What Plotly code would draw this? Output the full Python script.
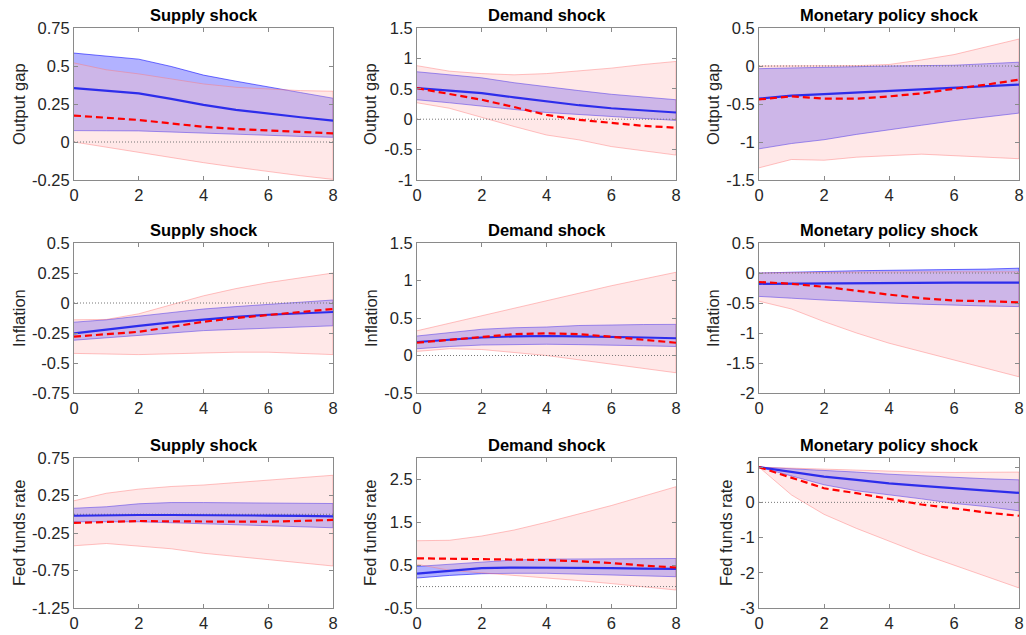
import plotly.graph_objects as go

# ---------------- data ----------------
quarters = [0, 1, 2, 3, 4, 5, 6, 7, 8]
row_labels = ["Output gap", "Inflation", "Fed funds rate"]
col_titles = ["Supply shock", "Demand shock", "Monetary policy shock"]

# Output gap
og_sup_blue_hi = [0.585, 0.565, 0.545, 0.497, 0.44, 0.40, 0.36, 0.325, 0.288]
og_sup_blue_md = [0.354, 0.338, 0.32, 0.284, 0.244, 0.211, 0.185, 0.163, 0.14]
og_sup_blue_lo = [0.075, 0.074, 0.073, 0.065, 0.057, 0.05, 0.044, 0.037, 0.031]
og_sup_red_md = [0.174, 0.158, 0.145, 0.122, 0.10, 0.086, 0.075, 0.065, 0.057]
og_sup_red_hi = [0.52, 0.475, 0.448, 0.413, 0.382, 0.36, 0.35, 0.338, 0.334]
og_sup_red_lo = [0.0, -0.036, -0.07, -0.103, -0.136, -0.166, -0.196, -0.222, -0.246]

og_dem_blue_hi = [0.78, 0.73, 0.68, 0.60, 0.53, 0.47, 0.41, 0.36, 0.32]
og_dem_blue_md = [0.51, 0.47, 0.43, 0.36, 0.29, 0.23, 0.18, 0.14, 0.11]
og_dem_blue_lo = [0.32, 0.27, 0.22, 0.16, 0.11, 0.07, 0.044, 0.01, -0.02]
og_dem_red_md = [0.51, 0.42, 0.32, 0.2, 0.07, -0.01, -0.066, -0.11, -0.14]
og_dem_red_hi = [0.88, 0.79, 0.75, 0.73, 0.75, 0.79, 0.84, 0.90, 0.95]
og_dem_red_lo = [0.27, 0.18, 0.03, -0.12, -0.26, -0.34, -0.45, -0.52, -0.59]

og_mon_blue_hi = [-0.035, -0.025, -0.02, -0.01, 0.0, 0.005, 0.01, 0.03, 0.05]
og_mon_blue_md = [-0.43, -0.39, -0.37, -0.35, -0.33, -0.31, -0.29, -0.265, -0.245]
og_mon_blue_lo = [-1.09, -1.02, -0.97, -0.90, -0.84, -0.78, -0.72, -0.67, -0.62]
og_mon_red_md = [-0.44, -0.40, -0.43, -0.43, -0.40, -0.36, -0.30, -0.245, -0.18]
og_mon_red_hi = [0.0, 0.0, 0.0, 0.005, 0.02, 0.08, 0.15, 0.25, 0.355]
og_mon_red_lo = [-1.34, -1.23, -1.24, -1.2, -1.18, -1.16, -1.18, -1.2, -1.22]

# Inflation
inf_sup_blue_hi = [-0.16, -0.14, -0.11, -0.08, -0.05, -0.03, -0.01, 0.01, 0.025]
inf_sup_blue_md = [-0.254, -0.22, -0.19, -0.162, -0.137, -0.116, -0.098, -0.085, -0.075]
inf_sup_blue_lo = [-0.31, -0.29, -0.27, -0.25, -0.23, -0.22, -0.21, -0.20, -0.19]
inf_sup_red_md = [-0.28, -0.26, -0.24, -0.2, -0.156, -0.125, -0.10, -0.075, -0.05]
inf_sup_red_hi = [-0.14, -0.137, -0.09, -0.017, 0.06, 0.12, 0.17, 0.21, 0.25]
inf_sup_red_lo = [-0.42, -0.425, -0.43, -0.42, -0.415, -0.41, -0.41, -0.42, -0.43]

inf_dem_blue_hi = [0.26, 0.31, 0.35, 0.37, 0.38, 0.40, 0.41, 0.413, 0.415]
inf_dem_blue_md = [0.18, 0.21, 0.24, 0.255, 0.26, 0.255, 0.25, 0.24, 0.23]
inf_dem_blue_lo = [0.09, 0.12, 0.14, 0.148, 0.15, 0.145, 0.14, 0.13, 0.12]
inf_dem_red_md = [0.17, 0.21, 0.25, 0.285, 0.295, 0.285, 0.25, 0.21, 0.17]
inf_dem_red_hi = [0.33, 0.43, 0.53, 0.64, 0.74, 0.84, 0.93, 1.02, 1.11]
inf_dem_red_lo = [0.055, 0.09, 0.08, 0.04, 0.0, -0.05, -0.11, -0.17, -0.23]

inf_mon_blue_hi = [0.0, 0.015, 0.03, 0.038, 0.045, 0.05, 0.055, 0.065, 0.08]
inf_mon_blue_md = [-0.18, -0.175, -0.17, -0.165, -0.16, -0.16, -0.16, -0.16, -0.16]
inf_mon_blue_lo = [-0.39, -0.42, -0.45, -0.48, -0.5, -0.52, -0.54, -0.55, -0.56]
inf_mon_red_md = [-0.15, -0.18, -0.23, -0.30, -0.36, -0.42, -0.46, -0.47, -0.49]
inf_mon_red_hi = [0.0, 0.0, 0.01, 0.015, 0.02, 0.02, 0.02, 0.02, 0.02]
inf_mon_red_lo = [-0.47, -0.6, -0.81, -1.0, -1.17, -1.31, -1.44, -1.59, -1.73]

# Fed funds rate
ffr_sup_blue_hi = [0.08, 0.10, 0.14, 0.156, 0.156, 0.153, 0.15, 0.147, 0.143]
ffr_sup_blue_md = [-0.02, -0.012, -0.01, -0.01, -0.01, -0.014, -0.018, -0.022, -0.027]
ffr_sup_blue_lo = [-0.1, -0.1, -0.1, -0.115, -0.13, -0.14, -0.15, -0.165, -0.18]
ffr_sup_red_md = [-0.116, -0.1, -0.09, -0.095, -0.10, -0.10, -0.10, -0.088, -0.076]
ffr_sup_red_hi = [0.18, 0.28, 0.335, 0.37, 0.39, 0.42, 0.45, 0.485, 0.52]
ffr_sup_red_lo = [-0.42, -0.39, -0.42, -0.46, -0.52, -0.56, -0.6, -0.645, -0.69]

ffr_dem_blue_hi = [0.47, 0.52, 0.58, 0.62, 0.64, 0.645, 0.65, 0.652, 0.655]
ffr_dem_blue_md = [0.3, 0.37, 0.43, 0.445, 0.445, 0.44, 0.43, 0.42, 0.415]
ffr_dem_blue_lo = [0.2, 0.26, 0.3, 0.31, 0.31, 0.295, 0.275, 0.25, 0.23]
ffr_dem_red_md = [0.66, 0.65, 0.64, 0.63, 0.62, 0.59, 0.55, 0.49, 0.445]
ffr_dem_red_hi = [1.07, 1.08, 1.18, 1.32, 1.50, 1.69, 1.89, 2.11, 2.33]
ffr_dem_red_lo = [0.52, 0.38, 0.31, 0.26, 0.2, 0.14, 0.07, 0.0, -0.08]

ffr_mon_blue_hi = [1.0, 0.96, 0.92, 0.86, 0.8, 0.75, 0.7, 0.67, 0.64]
ffr_mon_blue_md = [1.0, 0.86, 0.73, 0.64, 0.54, 0.47, 0.4, 0.33, 0.27]
ffr_mon_blue_lo = [1.0, 0.76, 0.5, 0.33, 0.21, 0.1, -0.03, -0.12, -0.24]
ffr_mon_red_md = [1.0, 0.7, 0.4, 0.26, 0.1, -0.06, -0.17, -0.29, -0.38]
ffr_mon_red_hi = [1.0, 0.97, 0.94, 0.91, 0.88, 0.86, 0.85, 0.85, 0.86]
ffr_mon_red_lo = [1.0, 0.21, -0.34, -0.74, -1.1, -1.46, -1.79, -2.1, -2.43]

panels = [
    [(og_sup_blue_lo, og_sup_blue_md, og_sup_blue_hi, og_sup_red_lo, og_sup_red_md, og_sup_red_hi),
     (og_dem_blue_lo, og_dem_blue_md, og_dem_blue_hi, og_dem_red_lo, og_dem_red_md, og_dem_red_hi),
     (og_mon_blue_lo, og_mon_blue_md, og_mon_blue_hi, og_mon_red_lo, og_mon_red_md, og_mon_red_hi)],
    [(inf_sup_blue_lo, inf_sup_blue_md, inf_sup_blue_hi, inf_sup_red_lo, inf_sup_red_md, inf_sup_red_hi),
     (inf_dem_blue_lo, inf_dem_blue_md, inf_dem_blue_hi, inf_dem_red_lo, inf_dem_red_md, inf_dem_red_hi),
     (inf_mon_blue_lo, inf_mon_blue_md, inf_mon_blue_hi, inf_mon_red_lo, inf_mon_red_md, inf_mon_red_hi)],
    [(ffr_sup_blue_lo, ffr_sup_blue_md, ffr_sup_blue_hi, ffr_sup_red_lo, ffr_sup_red_md, ffr_sup_red_hi),
     (ffr_dem_blue_lo, ffr_dem_blue_md, ffr_dem_blue_hi, ffr_dem_red_lo, ffr_dem_red_md, ffr_dem_red_hi),
     (ffr_mon_blue_lo, ffr_mon_blue_md, ffr_mon_blue_hi, ffr_mon_red_lo, ffr_mon_red_md, ffr_mon_red_hi)],
]

y_ranges = [
    [(-0.25, 0.75), (-1, 1.5), (-1.5, 0.5)],
    [(-0.75, 0.5), (-0.5, 1.5), (-2, 0.5)],
    [(-1.25, 0.75), (-0.5, 3.0), (-3, 1.26)],
]
y_ticks = [
    [[-0.25, 0, 0.25, 0.5, 0.75], [-1, -0.5, 0, 0.5, 1, 1.5], [-1.5, -1, -0.5, 0, 0.5]],
    [[-0.75, -0.5, -0.25, 0, 0.25, 0.5], [-0.5, 0, 0.5, 1, 1.5], [-2, -1.5, -1, -0.5, 0, 0.5]],
    [[-1.25, -0.75, -0.25, 0.25, 0.75], [-0.5, 0.5, 1.5, 2.5], [-3, -2, -1, 0, 1]],
]
y_ticktext = [
    [["-0.25", "0", "0.25", "0.5", "0.75"], ["-1", "-0.5", "0", "0.5", "1", "1.5"], ["-1.5", "-1", "-0.5", "0", "0.5"]],
    [["-0.75", "-0.5", "-0.25", "0", "0.25", "0.5"], ["-0.5", "0", "0.5", "1", "1.5"], ["-2", "-1.5", "-1", "-0.5", "0", "0.5"]],
    [["-1.25", "-0.75", "-0.25", "0.25", "0.75"], ["-0.5", "0.5", "1.5", "2.5"], ["-3", "-2", "-1", "0", "1"]],
]
x_ticks = [0, 2, 4, 6, 8]

# ---------------- layout geometry (screen pixels) ----------------
W, H = 1026, 635
col_px = [(74, 333), (417, 676), (759, 1019)]
row_px = [(28, 180), (243, 393), (458, 608)]
ylab_px = [[19, 370, 713], [19, 371, 713], [19, 370, 726]]


def fx(px):
    return px / W


def fy(py):
    return 1 - py / H


FONT = "Liberation Sans, Arial, sans-serif"
FS = 16.5
AXCOL = "#8a8a8a"
TXTCOL = "#262626"

BLUE_FILL = "rgba(0,0,255,0.30)"
BLUE_EDGE = "rgba(0,0,255,0.55)"
RED_FILL = "rgba(255,190,190,0.35)"
RED_EDGE = "rgba(255,120,120,0.45)"

fig = go.Figure()
annotations = []
layout_axes = {}

for r in range(3):
    for c in range(3):
        k = r * 3 + c + 1
        xa = "x" if k == 1 else f"x{k}"
        ya = "y" if k == 1 else f"y{k}"
        xkey = "xaxis" if k == 1 else f"xaxis{k}"
        ykey = "yaxis" if k == 1 else f"yaxis{k}"
        blo, bmd, bhi, rlo, rmd, rhi = panels[r][c]
        xs_poly = quarters + quarters[::-1]

        # blue band
        fig.add_trace(go.Scatter(x=xs_poly, y=bhi + blo[::-1], fill="toself",
                                 fillcolor=BLUE_FILL, line=dict(color=BLUE_EDGE, width=1),
                                 mode="lines", hoverinfo="skip", showlegend=False,
                                 xaxis=xa, yaxis=ya))
        # red band on top
        fig.add_trace(go.Scatter(x=xs_poly, y=rhi + rlo[::-1], fill="toself",
                                 fillcolor=RED_FILL, line=dict(color=RED_EDGE, width=1),
                                 mode="lines", hoverinfo="skip", showlegend=False,
                                 xaxis=xa, yaxis=ya))
        # zero line
        fig.add_trace(go.Scatter(x=[quarters[0], quarters[-1]], y=[0, 0], mode="lines",
                                 line=dict(color="#777777", width=1, dash="1px,2px"),
                                 hoverinfo="skip", showlegend=False, xaxis=xa, yaxis=ya))
        # blue median
        fig.add_trace(go.Scatter(x=quarters, y=bmd, mode="lines",
                                 line=dict(color="rgb(45,45,235)", width=2.2),
                                 showlegend=False, xaxis=xa, yaxis=ya))
        # red median dashed
        fig.add_trace(go.Scatter(x=quarters, y=rmd, mode="lines",
                                 line=dict(color="rgb(255,0,0)", width=2.2, dash="7px,4px"),
                                 showlegend=False, xaxis=xa, yaxis=ya))

        x0, x1 = col_px[c]
        yt, yb = row_px[r]
        dom_x = [fx(x0), fx(x1)]
        dom_y = [fy(yb), fy(yt)]
        common = dict(showline=True, linecolor=AXCOL, linewidth=1, mirror="ticks",
                      ticks="inside", ticklen=4, tickcolor=AXCOL, showgrid=False,
                      zeroline=False, automargin=False, ticklabeloverflow="allow",
                      tickfont=dict(family=FONT, size=FS, color=TXTCOL))
        layout_axes[xkey] = dict(domain=dom_x, anchor=ya, range=[0, 8], tickvals=x_ticks,
                                 ticktext=[str(v) for v in x_ticks], **common)
        layout_axes[ykey] = dict(domain=dom_y, anchor=xa, range=list(y_ranges[r][c]),
                                 tickvals=y_ticks[r][c], ticktext=y_ticktext[r][c], **common)

        annotations.append(dict(text=f"<b>{col_titles[c]}</b>", xref="paper", yref="paper",
                                x=(dom_x[0] + dom_x[1]) / 2, y=dom_y[1], xanchor="center",
                                yanchor="bottom", yshift=2, showarrow=False,
                                font=dict(family=FONT, size=FS, color="#000000")))
        annotations.append(dict(text=row_labels[r], xref="paper", yref="paper",
                                x=fx(ylab_px[r][c]), y=(dom_y[0] + dom_y[1]) / 2,
                                xanchor="center", yanchor="middle", textangle=-90,
                                showarrow=False,
                                font=dict(family=FONT, size=FS, color=TXTCOL)))

fig.update_layout(width=W, height=H,
                  margin=dict(l=0, r=0, t=0, b=0, pad=0, autoexpand=False),
                  paper_bgcolor="white", plot_bgcolor="white",
                  hovermode=False,
                  annotations=annotations, **layout_axes)

# remove the browser's default page margin so the figure fills the window exactly
fig.write_html("out.html", config={"displayModeBar": False, "staticPlot": True},
               post_script="document.body.style.margin='0px';")
